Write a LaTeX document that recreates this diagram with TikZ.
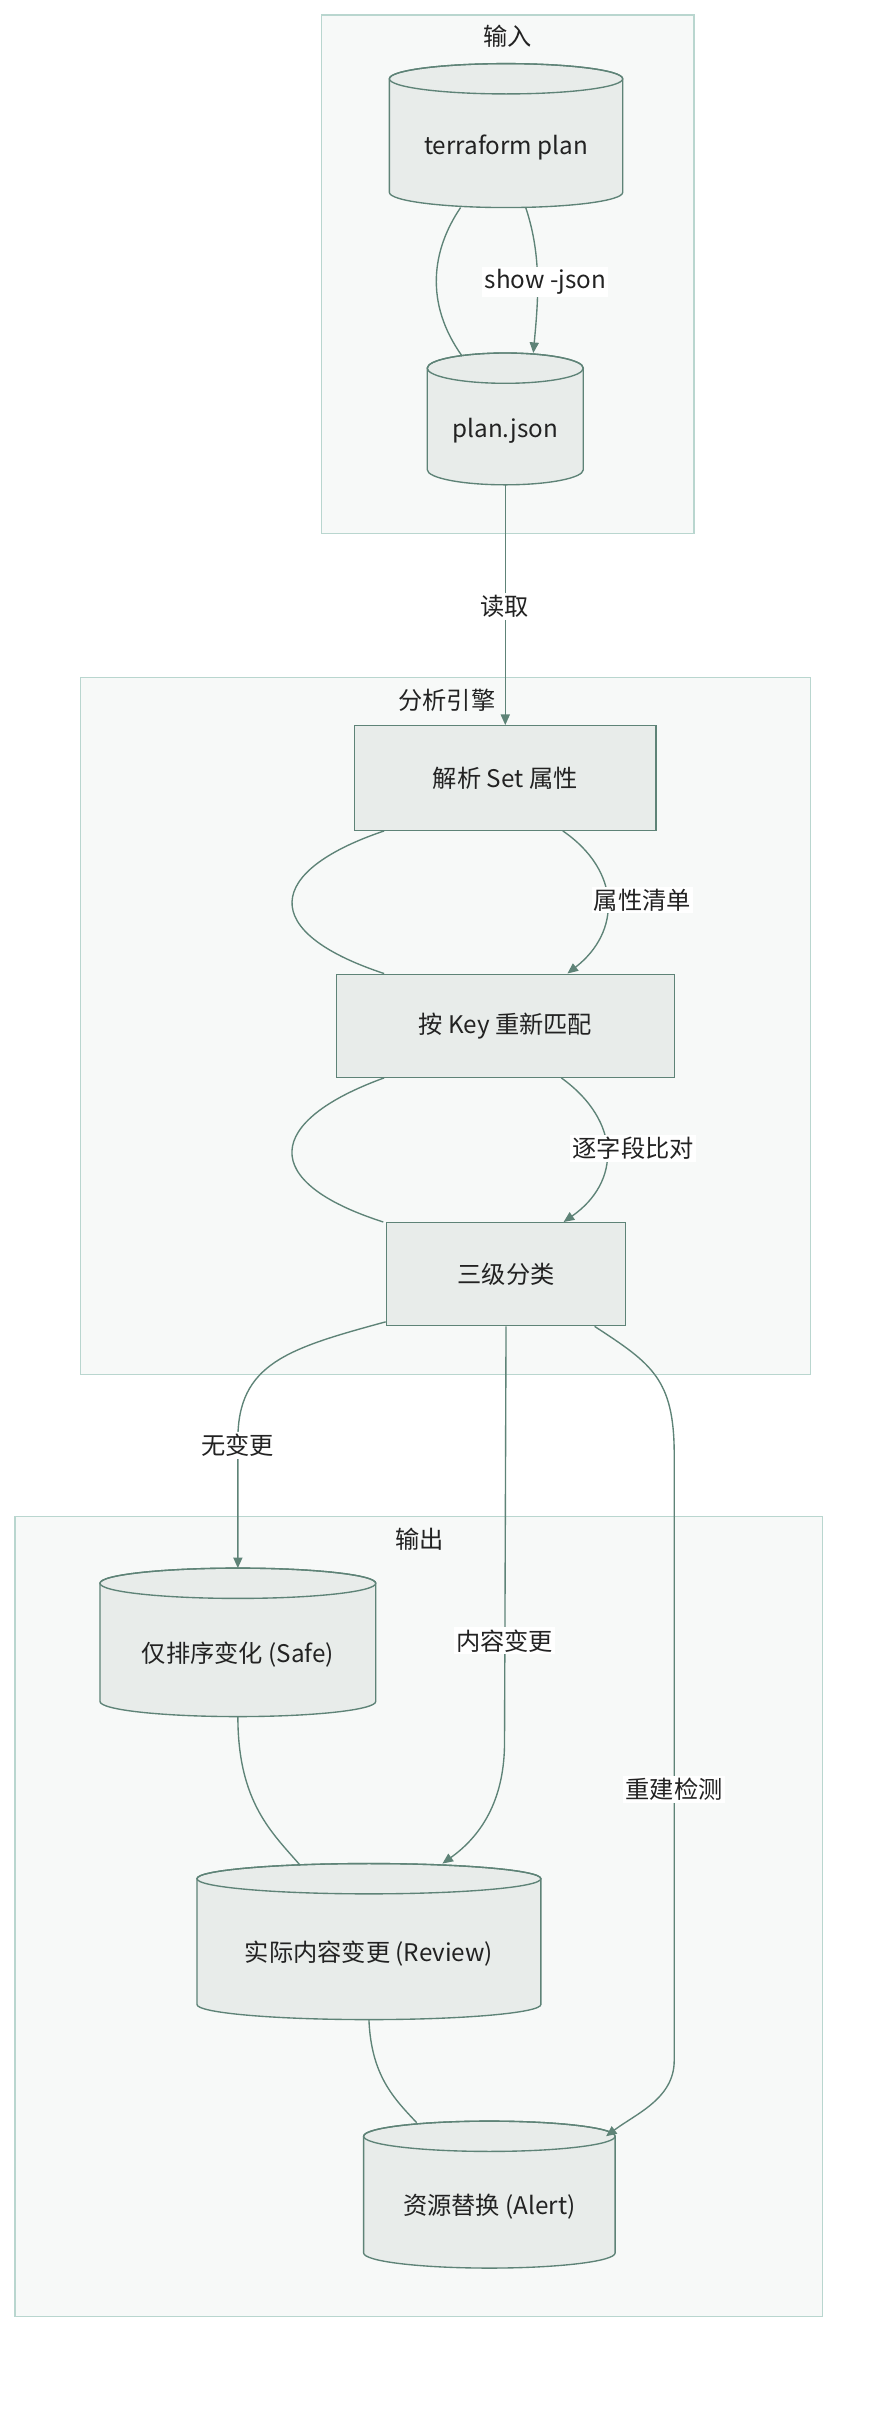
\documentclass[tikz,border=0pt]{standalone}
\usepackage{fontspec}
\setmainfont{Noto Sans CJK SC}
\usetikzlibrary{calc,arrows.meta}
\definecolor{clf}{HTML}{F7F9F8}
\definecolor{cld}{HTML}{B9D6CF}
\definecolor{ndf}{HTML}{E8ECEA}
\definecolor{ndd}{HTML}{5E8377}
\definecolor{txt}{HTML}{222222}
\newcommand\mycyl[6]{%
 \pgfmathsetmacro\ra{(#3-#2)/2}\pgfmathsetmacro\cx{(#2+#3)/2}%
 \pgfmathsetmacro\tt{#4+10}\pgfmathsetmacro\bb{#5-10}%
 \filldraw[fill=ndf,draw=ndd,line width=0.9pt] (#2,\tt) -- (#2,\bb) arc[start angle=180,end angle=0,x radius=\ra,y radius=10] -- (#3,\tt) arc[start angle=0,end angle=-180,x radius=\ra,y radius=10] -- cycle;
 \draw[draw=ndd,line width=0.9pt] (\cx,\tt) ellipse[x radius=\ra,y radius=10];
 \node[lbl,minimum width=#3-#2,minimum height=#5-#4] (#1) at (\cx,{(#4+#5)/2}) {};
 \node[lbl] at (\cx,{(#4+#5)/2+8}) {#6};}
\begin{document}
\begin{tikzpicture}[x=1pt,y=-1pt,
 lbl/.style={inner sep=0pt,outer sep=0pt,text=txt,font=\fontsize{16}{18}\selectfont},
 clus/.style={fill=clf,draw=cld,line width=0.9pt},
 box/.style={draw=ndd,fill=ndf,line width=0.9pt,inner sep=0pt,text=txt,font=\fontsize{16}{18}\selectfont},
 ed/.style={draw=ndd,line width=0.9pt},
 ar/.style={ed,-{Triangle[length=7pt,width=6pt]}},
 el/.style={fill=white,inner sep=1.5pt,text=txt,font=\fontsize{16}{18}\selectfont}]
\useasboundingbox (0,0) rectangle (573,1592);
\fill[white] (0,0) rectangle (573,1592);
% clusters
\draw[clus] (212,10) rectangle (458,352);
\node[lbl] (c1) at (335,24) {输入};
\draw[clus] (53,447) rectangle (535,907);
\node[lbl] (c2) at (295,462) {分析引擎};
\draw[clus] (10,1001) rectangle (543,1529);
\node[lbl] (c3) at (277,1016) {输出};
% input
\mycyl{tp}{257}{411}{42}{137}{terraform plan}
\mycyl{pj}{282}{385}{233}{320}{plan.json}
\draw[ed] (304,137) .. controls (285,165) and (280,200) .. (305,235);
\draw[ar] (347,137) .. controls (358,170) and (355,200) .. (352,233);
\node[el] (l1) at (360,186) {show -json};
% engine
\node[box,minimum width=199pt,minimum height=69pt] (a) at (333.5,513.5) {解析 Set 属性};
\node[box,minimum width=223pt,minimum height=68pt] (b) at (333.5,677) {按 Key 重新匹配};
\node[box,minimum width=158pt,minimum height=68pt] (c) at (334,841) {三级分类};
\draw[ar] (pj.south) -- (a.north);
\node[el] (l2) at (333,400) {读取};
\draw[ed] ($(a.south)+(-80,0)$) .. controls (175,575) and (170,615) .. ($(b.north)+(-80,0)$);
\draw[ar] ($(a.south)+(38,0)$) .. controls (410,575) and (410,615) .. ($(b.north)+(41,0)$);
\node[el] (l3) at (424,594) {属性清单};
\draw[ed] ($(b.south)+(-80,0)$) .. controls (175,740) and (170,780) .. ($(c.north)+(-81,0)$);
\draw[ar] ($(b.south)+(37,0)$) .. controls (410,740) and (410,780) .. ($(c.north)+(38,0)$);
\node[el] (l4) at (418,758) {逐字段比对};
% output
\mycyl{s}{66}{248}{1035}{1133}{仅排序变化 (Safe)}
\mycyl{r}{130}{357}{1230}{1333}{实际内容变更 (Review)}
\mycyl{t}{240}{406}{1400}{1497}{资源替换 (Alert)}
\draw[ar] ($(c.south west)+(0,-3)$) .. controls (190,890) and (157,900) .. (157,950) -- (s.north);
\node[el] (l5) at (157,954) {无变更};
\draw[ar] (c.south) -- (333,1150) .. controls (333,1185) and (320,1210) .. (292,1230);
\node[el] (l6) at (333,1083) {内容变更};
\draw[ar] ($(c.south east)+(-21,0)$) .. controls (430,900) and (445,910) .. (445,960) -- (445,1360) .. controls (445,1385) and (420,1395) .. (400,1410);
\node[el] (l7) at (445,1181) {重建检测};
\draw[ed] (s.south) .. controls (157,1190) and (180,1210) .. (198,1231);
\draw[ed] (r.south) .. controls (245,1370) and (260,1385) .. (275,1401);
\end{tikzpicture}
\end{document}
